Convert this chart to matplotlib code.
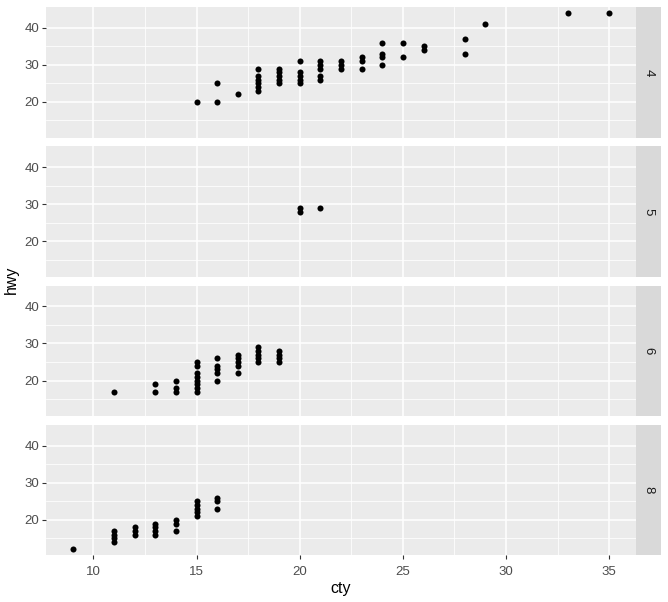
import matplotlib.pyplot as plt
import numpy as np

plt.rcParams['font.family'] = ['Liberation Sans', 'DejaVu Sans']

# mpg data (one entry per visible dot), faceted by cyl
cyl_levels = ["4", "5", "6", "8"]

cty_4 = [15, 16, 16, 17, 18, 18, 18, 18, 18, 18, 19, 19, 19, 19, 19,
         20, 20, 20, 20, 20, 21, 21, 21, 21, 21, 22, 22, 22, 23, 23, 23,
         24, 24, 24, 24, 25, 25, 26, 26, 28, 28, 29, 33, 35]
hwy_4 = [20, 20, 25, 22, 23, 24, 25, 26, 27, 29, 25, 26, 27, 28, 29,
         25, 26, 27, 28, 31, 26, 27, 29, 30, 31, 29, 30, 31, 29, 31, 32,
         30, 32, 33, 36, 32, 36, 34, 35, 33, 37, 41, 44, 44]

cty_5 = [20, 20, 21]
hwy_5 = [28, 29, 29]

cty_6 = [11, 13, 13, 14, 14, 14, 15, 15, 15, 15, 15, 15, 15, 15,
         16, 16, 16, 16, 16, 17, 17, 17, 17, 17, 18, 18, 18, 18, 18,
         19, 19, 19, 19]
hwy_6 = [17, 17, 19, 17, 18, 20, 17, 18, 19, 20, 21, 22, 24, 25,
         20, 22, 23, 24, 26, 22, 24, 25, 26, 27, 25, 26, 27, 28, 29,
         25, 26, 27, 28]

cty_8 = [9, 11, 11, 11, 11, 12, 12, 12, 13, 13, 13, 13, 14, 14, 14,
         15, 15, 15, 15, 15, 16, 16, 16]
hwy_8 = [12, 14, 15, 16, 17, 16, 17, 18, 16, 17, 18, 19, 17, 19, 20,
         21, 22, 23, 24, 25, 23, 25, 26]

cty_sets = [cty_4, cty_5, cty_6, cty_8]
hwy_sets = [hwy_4, hwy_5, hwy_6, hwy_8]

x_ticks = [10, 15, 20, 25, 30, 35]
y_ticks = [20, 30, 40]

W, H = 668, 602
fig = plt.figure(figsize=(W / 100, H / 100), dpi=100)

left, right = 46, 636
strip_w = 25
top0, step, ph = 7, 139.3, 130.5

xmin, xmax = min(min(c) for c in cty_sets), max(max(c) for c in cty_sets)
ymin, ymax = min(min(h) for h in hwy_sets), max(max(h) for h in hwy_sets)
xpad = (xmax - xmin) * 0.05
ypad = (ymax - ymin) * 0.05

axes = []
for i, lev in enumerate(cyl_levels):
    top = top0 + i * step
    ax = fig.add_axes([left / W, 1 - (top + ph) / H, (right - left) / W, ph / H])
    ax.set_facecolor('#EBEBEB')
    ax.scatter(cty_sets[i], hwy_sets[i], s=19, color='black', linewidths=0, zorder=3)
    ax.set_xlim(xmin - xpad, xmax + xpad)
    ax.set_ylim(ymin - ypad, ymax + ypad)
    ax.set_xticks(x_ticks)
    ax.set_yticks(y_ticks)
    ax.set_xticks([12.5, 17.5, 22.5, 27.5, 32.5], minor=True)
    ax.set_yticks([15, 25, 35], minor=True)
    ax.grid(which='major', color='white', linewidth=1.1)
    ax.grid(which='minor', color='white', linewidth=0.55)
    ax.set_axisbelow(True)
    for sp in ax.spines.values():
        sp.set_visible(False)
    ax.tick_params(which='major', length=2.8, width=0.8, color='#333333',
                   labelcolor='#4D4D4D', labelsize=9.5, pad=2)
    ax.tick_params(axis='x', which='major', pad=4.5)
    ax.tick_params(which='minor', length=0)
    if i < len(cyl_levels) - 1:
        ax.tick_params(axis='x', which='major', length=0, labelbottom=False)

    sx = fig.add_axes([right / W, 1 - (top + ph) / H, strip_w / W, ph / H])
    sx.set_facecolor('#D9D9D9')
    sx.set_xticks([])
    sx.set_yticks([])
    for sp in sx.spines.values():
        sp.set_visible(False)
    sx.text(0.5, 0.5, lev, rotation=-90, ha='center', va='center',
            fontsize=9.5, color='#1A1A1A', transform=sx.transAxes)
    axes.append(ax)

fig.text((left + right) / 2 / W, 1 - 589 / H, 'cty', ha='center', va='center',
         fontsize=11.5, color='black')
fig.text(11 / W, 1 - 280 / H, 'hwy', ha='center', va='center', rotation=90,
         fontsize=11.5, color='black')

fig.savefig('out.png', dpi=100, facecolor='white')
